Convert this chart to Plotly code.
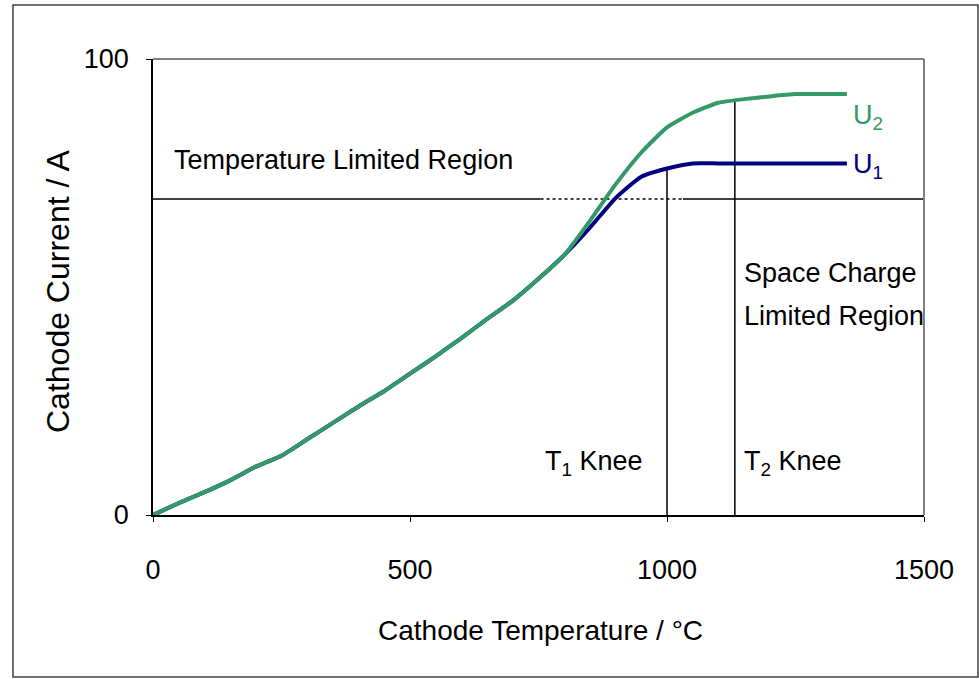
import plotly.graph_objects as go

# ---- data ----
temp_c = [0, 50, 100, 150, 200, 250, 300, 350, 400, 450, 500, 550, 600, 650, 700,
          750, 800, 850, 900, 950, 1000, 1050, 1100, 1150, 1200, 1250, 1300, 1350]
current_u1 = [0, 2.6, 5.0, 7.6, 10.6, 13.0, 16.6, 20.2, 23.8, 27.2, 31.0, 34.8, 38.8, 43.0, 47.0,
              51.8, 57.0, 63.0, 69.5, 74.2, 76.0, 77.1, 77.1, 77.1, 77.1, 77.1, 77.1, 77.1]
current_u2 = [0, 2.6, 5.0, 7.6, 10.6, 13.0, 16.6, 20.2, 23.8, 27.2, 31.0, 34.8, 38.8, 43.0, 47.0,
              51.8, 57.0, 64.5, 72.5, 79.5, 85.0, 88.2, 90.4, 91.2, 91.8, 92.3, 92.3, 92.3]

x_ticks = [0, 500, 1000, 1500]
y_ticks = [0, 100]

t1_knee = 1000
t1_knee_current = 76.0
t2_knee = 1132
t2_knee_current = 91.0
limit_level = 69.3
dotted_from = 754
dotted_to = 1031

FONT = "Liberation Sans, Arial, sans-serif"
GREEN = "#339966"
NAVY = "#000080"
FS = 27

fig = go.Figure()
fig.add_trace(go.Scatter(x=temp_c, y=current_u1, mode="lines",
                         line=dict(color=NAVY, width=4, shape="spline", smoothing=0.5), showlegend=False))
fig.add_trace(go.Scatter(x=temp_c, y=current_u2, mode="lines",
                         line=dict(color=GREEN, width=4, shape="spline", smoothing=0.5), showlegend=False))

line_black = dict(color="black", width=1.5)
shapes = [
    dict(type="line", xref="x", yref="y", x0=0, x1=dotted_from, y0=limit_level, y1=limit_level, line=line_black, layer="below"),
    dict(type="line", xref="x", yref="y", x0=dotted_from, x1=dotted_to, y0=limit_level, y1=limit_level,
         line=dict(color="black", width=1.5, dash="dot"), layer="below"),
    dict(type="line", xref="x", yref="y", x0=dotted_to, x1=1500, y0=limit_level, y1=limit_level, line=line_black, layer="below"),
    dict(type="line", xref="x", yref="y", x0=t1_knee, x1=t1_knee, y0=0, y1=t1_knee_current, line=line_black, layer="below"),
    dict(type="line", xref="x", yref="y", x0=t2_knee, x1=t2_knee, y0=0, y1=t2_knee_current, line=line_black, layer="below"),
    # grey top & right plot frame
    dict(type="line", xref="x domain", yref="y domain", x0=0, x1=1, y0=1, y1=1, line=dict(color="#808080", width=2)),
    dict(type="line", xref="x domain", yref="y domain", x0=1, x1=1, y0=0, y1=1, line=dict(color="#808080", width=2)),
    # outer chart border
    dict(type="rect", xref="paper", yref="paper", x0=(13 - 153) / 771, x1=(978 - 153) / 771,
         y0=(515 - 677) / 456, y1=(515 - 5) / 456, line=dict(color="#404040", width=1.5)),
]

def ann(text, x, y, color="black", xanchor="left", size=FS):
    return dict(text=text, x=x, y=y, xref="x", yref="y", showarrow=False,
                xanchor=xanchor, yanchor="middle", font=dict(family=FONT, size=size, color=color))

annotations = [
    ann("Temperature Limited Region", 37, 77.9),
    ann("U<sub>2</sub>", 1357, 87.3, color=GREEN),
    ann("U<sub>1</sub>", 1357, 76.6, color=NAVY),
    ann("Space Charge", 1146, 53.1),
    ann("Limited Region", 1146, 43.6),
    ann("T<sub>1</sub> Knee", 957, 11.4, xanchor="right"),
    ann("T<sub>2</sub> Knee", 1146, 11.4),
    dict(text="Cathode Temperature / °C", x=(540 - 153) / 771, y=(515 - 630) / 456, xref="paper", yref="paper",
         showarrow=False, xanchor="center", yanchor="middle", font=dict(family=FONT, size=28, color="black")),
    dict(text="Cathode Current / A", x=(58 - 153) / 771, y=(515 - 292) / 456, xref="paper", yref="paper",
         showarrow=False, xanchor="center", yanchor="middle", textangle=-90,
         font=dict(family=FONT, size=32, color="black")),
]

fig.update_layout(
    width=979, height=679,
    margin=dict(l=153, r=55, t=59, b=164),
    paper_bgcolor="white", plot_bgcolor="white",
    font=dict(family=FONT, size=FS, color="black"),
    shapes=shapes, annotations=annotations,
    xaxis=dict(range=[0, 1500], tickvals=x_ticks, ticks="outside", ticklen=5, tickcolor="black",
               showline=True, linecolor="black", linewidth=1.5, showgrid=False, zeroline=False,
               ticklabelstandoff=25, tickfont=dict(size=27)),
    yaxis=dict(range=[0, 100], tickvals=y_ticks, ticks="outside", ticklen=5, tickcolor="black",
               showline=True, linecolor="black", linewidth=1.5, showgrid=False, zeroline=False,
               ticklabelstandoff=12, tickfont=dict(size=27)),
)

fig.write_html("out.html", config={"displayModeBar": False},
               post_script="document.body.style.margin='0';document.body.style.overflow='hidden';")
